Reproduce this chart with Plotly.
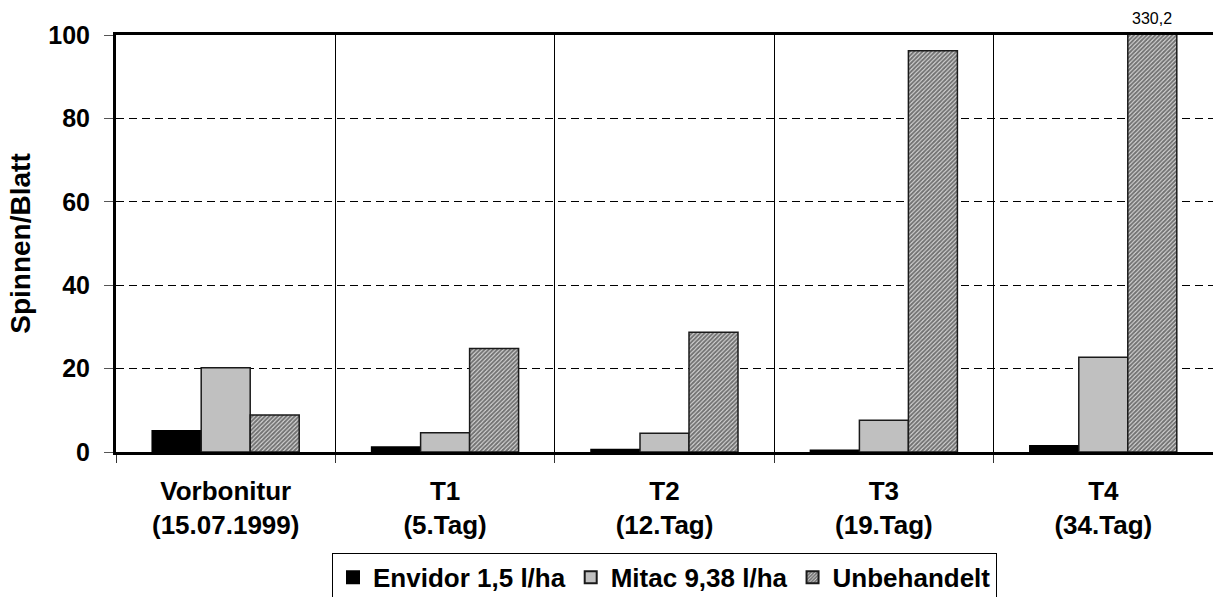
import plotly.graph_objects as go

categories = ["Vorbonitur<br>(15.07.1999)", "T1<br>(5.Tag)", "T2<br>(12.Tag)",
              "T3<br>(19.Tag)", "T4<br>(34.Tag)"]
series_names = ["Envidor 1,5 l/ha", "Mitac 9,38 l/ha", "Unbehandelt"]
envidor = [5.1, 1.2, 0.6, 0.4, 1.5]
mitac = [20.2, 4.6, 4.5, 7.6, 22.7]
unbehandelt = [8.9, 24.8, 28.7, 96.2, 330.2]
y_ticks = [0, 20, 40, 60, 80, 100]
y_max = 100

FONT = "Liberation Sans, Arial, sans-serif"
BARGAP = 0.33

fig = go.Figure()
fig.add_trace(go.Bar(
    name=series_names[0], x=categories, y=envidor,
    marker=dict(color="#000000", line=dict(color="#000000", width=1.5)),
))
fig.add_trace(go.Bar(
    name=series_names[1], x=categories, y=mitac,
    marker=dict(color="#c0c0c0", line=dict(color="#1a1a1a", width=1.5)),
))
fig.add_trace(go.Bar(
    name=series_names[2], x=categories, y=unbehandelt,
    marker=dict(color="#ffffff", line=dict(color="#1a1a1a", width=1.5),
                pattern=dict(shape="/", fgcolor="#000000", bgcolor="#e8e8e8",
                             size=3, solidity=0.7)),
))

# value label for the bar exceeding the axis range
for i, v in enumerate(unbehandelt):
    if v > y_max:
        fig.add_annotation(
            x=i + (1 - BARGAP) / 3, y=y_max, xref="x", yref="y",
            text=f"{v:.1f}".replace(".", ","), showarrow=False,
            yanchor="bottom", yshift=6,
            font=dict(family=FONT, size=16, color="#000000"),
        )

fig.update_layout(
    width=1213, height=597,
    margin=dict(l=116, r=0, t=35, b=145, autoexpand=False),
    paper_bgcolor="#ffffff", plot_bgcolor="#ffffff",
    barmode="group", bargap=BARGAP, bargroupgap=0,
    showlegend=True,
    legend=dict(
        orientation="h", x=0.5, xanchor="center", y=-0.242, yanchor="top",
        bordercolor="#000000", borderwidth=1, bgcolor="#ffffff",
        font=dict(family=FONT, size=26, color="#000000", weight="bold"),
        itemsizing="constant", tracegroupgap=0,
    ),
    font=dict(family=FONT, color="#000000"),
)

fig.update_xaxes(
    type="category", range=[-0.5, len(categories) - 0.5],
    showline=True, linecolor="#000000", linewidth=3, mirror=True,
    tickson="boundaries", ticks="outside", ticklen=8, tickcolor="#333333",
    tickwidth=1,
    showgrid=True, gridcolor="#000000", gridwidth=1,
    tickfont=dict(family=FONT, size=26, color="#000000", weight="bold"),
    ticklabelstandoff=14,
)
fig.update_yaxes(
    range=[0, y_max], tickvals=y_ticks,
    showline=True, linecolor="#000000", linewidth=3,
    ticks="outside", ticklen=9, tickcolor="#555555", tickwidth=1,
    showgrid=True, gridcolor="#000000", gridwidth=1, griddash="8px,5px",
    zeroline=False,
    tickfont=dict(family=FONT, size=25, color="#000000", weight="bold"),
    ticklabelstandoff=9,
    title=dict(text="Spinnen/Blatt", standoff=10,
               font=dict(family=FONT, size=28, color="#000000", weight="bold")),
)

fig.write_html("out.html")
